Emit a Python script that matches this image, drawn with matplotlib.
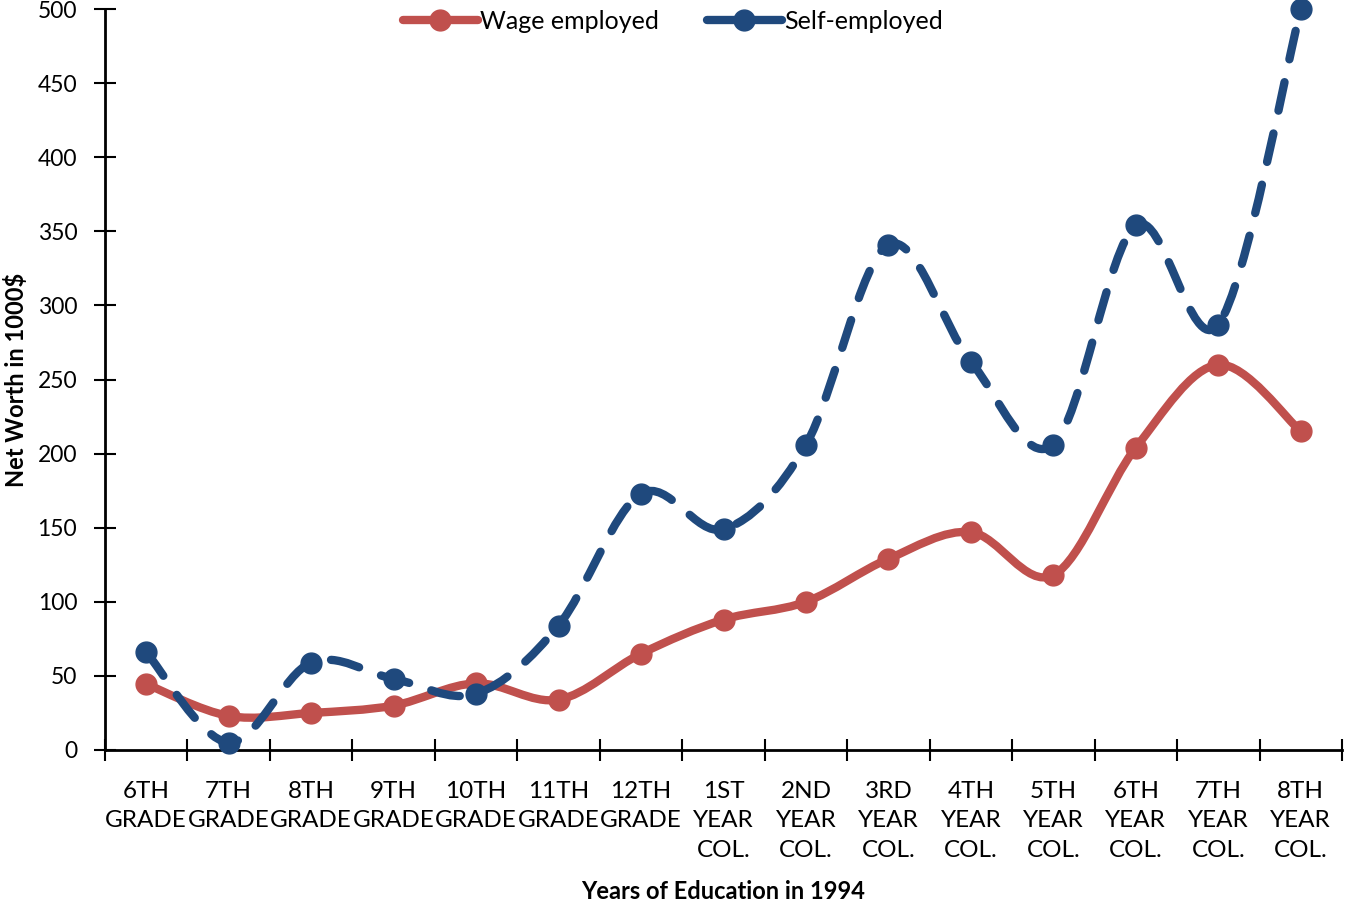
import numpy as np
import matplotlib as mpl
mpl.use('Agg')
import matplotlib.pyplot as plt
from matplotlib.path import Path
from matplotlib.patches import PathPatch
from matplotlib.lines import Line2D

plt.rcParams['font.family'] = ['Lato', 'DejaVu Sans']

categories = ['6TH\nGRADE', '7TH\nGRADE', '8TH\nGRADE', '9TH\nGRADE',
              '10TH\nGRADE', '11TH\nGRADE', '12TH\nGRADE',
              '1ST\nYEAR\nCOL.', '2ND\nYEAR\nCOL.', '3RD\nYEAR\nCOL.',
              '4TH\nYEAR\nCOL.', '5TH\nYEAR\nCOL.', '6TH\nYEAR\nCOL.',
              '7TH\nYEAR\nCOL.', '8TH\nYEAR\nCOL.']
wage = [44.5, 23, 25, 30, 45, 34, 65, 88, 100, 129, 147, 118, 204, 260, 215]
self_emp = [66, 5, 59, 48, 38, 84, 173, 149, 206, 341, 262, 206, 354, 287, 500]

RED = '#C0504D'
BLUE = '#1F497D'


def smooth_path(xs, ys, k=1.0 / 6):
    """Cubic bezier through the points, like a spreadsheet 'smoothed line'."""
    pts = np.column_stack([xs, ys]).astype(float)
    n = len(pts)
    verts = [pts[0]]
    codes = [Path.MOVETO]
    for i in range(n - 1):
        p0 = pts[max(i - 1, 0)]
        p1 = pts[i]
        p2 = pts[i + 1]
        p3 = pts[min(i + 2, n - 1)]
        c1 = p1 + (p2 - p0) * k
        c2 = p2 - (p3 - p1) * k
        verts += [c1, c2, p2]
        codes += [Path.CURVE4] * 3
    return Path(verts, codes)


fig = plt.figure(figsize=(13.46, 9.06), dpi=100)
ax = fig.add_axes([105 / 1346, 1 - 750 / 906, 1237 / 1346, 741 / 906])

x = np.arange(len(categories))
lw = 6.0
ms = 15
dash = (3.5, 2.8)

# wage employed: solid smoothed line
ax.add_patch(PathPatch(smooth_path(x, wage), fill=False, edgecolor=RED,
                       lw=lw, capstyle='round', joinstyle='round', zorder=3))
ax.plot(x, wage, 'o', ms=ms, color=RED, zorder=3, clip_on=False)

# self-employed: dashed smoothed line
ax.add_patch(PathPatch(smooth_path(x, self_emp), fill=False, edgecolor=BLUE,
                       lw=lw, linestyle=(0, dash), capstyle='round',
                       joinstyle='round', zorder=4))
ax.plot(x, self_emp, 'o', ms=ms, color=BLUE, zorder=4, clip_on=False)

ax.set_xlim(-0.5, len(categories) - 0.5)
ax.set_ylim(0, 500)

# category boundaries get the tick marks, labels sit between them
ax.set_xticks(np.arange(-0.5, len(categories)), labels=[''] * (len(categories) + 1))
ax.set_xticks(x, labels=categories, minor=True)
ax.tick_params(axis='x', which='major', direction='inout', length=16, width=1.5)
ax.tick_params(axis='x', which='minor', length=0, pad=22, labelsize=17.5)
for lab in ax.get_xticklabels(minor=True):
    lab.set_linespacing(1.5)

ax.set_yticks(np.arange(0, 501, 50))
ax.tick_params(axis='y', direction='inout', length=16, width=1.5, labelsize=16.5, pad=12)

for side in ['top', 'right']:
    ax.spines[side].set_visible(False)
for side in ['left', 'bottom']:
    ax.spines[side].set_linewidth(2)

ax.set_xlabel('Years of Education in 1994', fontsize=17, fontweight='bold', labelpad=14)
ax.set_ylabel(r'Net Worth in 1000\$', fontsize=17, fontweight='bold', labelpad=7)

handles = [
    Line2D([], [], color=RED, lw=lw, marker='o', ms=ms, solid_capstyle='round'),
    Line2D([], [], color=BLUE, lw=lw, marker='o', ms=ms, solid_capstyle='round'),
]
fig.legend(handles, ['Wage employed', 'Self-employed'], loc='upper center',
           bbox_to_anchor=(0.5, 1.014), ncol=2, frameon=False, fontsize=18,
           handlelength=3.0, handletextpad=0.1, columnspacing=1.9)

fig.savefig('out.png', dpi=100)
